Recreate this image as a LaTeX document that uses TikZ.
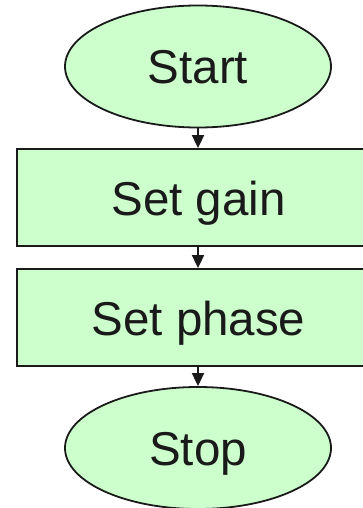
\documentclass[tikz,border=0pt]{standalone}
\usepackage{fontspec}
\setmainfont{Liberation Sans}
\usetikzlibrary{shapes.geometric,arrows.meta}
\definecolor{boxgreen}{HTML}{CCFFCC}
\definecolor{ink}{HTML}{1A1A1A}
\begin{document}
\begin{tikzpicture}[x=1pt,y=-1pt,
  term/.style={ellipse,draw=ink,fill=boxgreen,line width=1.8pt,inner sep=0pt,
    minimum width=266pt,minimum height=122pt,font=\fontsize{47.5}{50}\selectfont,text=ink,
    text height=35pt,text depth=0pt},
  proc/.style={rectangle,draw=ink,fill=boxgreen,line width=1.8pt,inner sep=0pt,
    minimum width=363pt,minimum height=97pt,font=\fontsize{47.5}{50}\selectfont,text=ink,
    text height=35pt,text depth=0pt},
  flow/.style={draw=ink,line width=1.8pt,-{Triangle[length=13pt,width=12pt]}}]
\useasboundingbox (0,0) rectangle (362,508);
\node[term] (start) at (198,66.5) {Start};
\node[proc] (gain) at (198.5,197.5) {Set gain};
\node[proc] (phase) at (198.5,317.5) {Set phase};
\node[term] (stop) at (198,448) {Stop};
\draw[flow] (start.south) -- (start.south |- gain.north);
\draw[flow] ([xshift=-0.5pt]gain.south) -- ([xshift=-0.5pt]phase.north);
\draw[flow] ([xshift=-0.5pt]phase.south) -- (stop.north);
\end{tikzpicture}
\end{document}
